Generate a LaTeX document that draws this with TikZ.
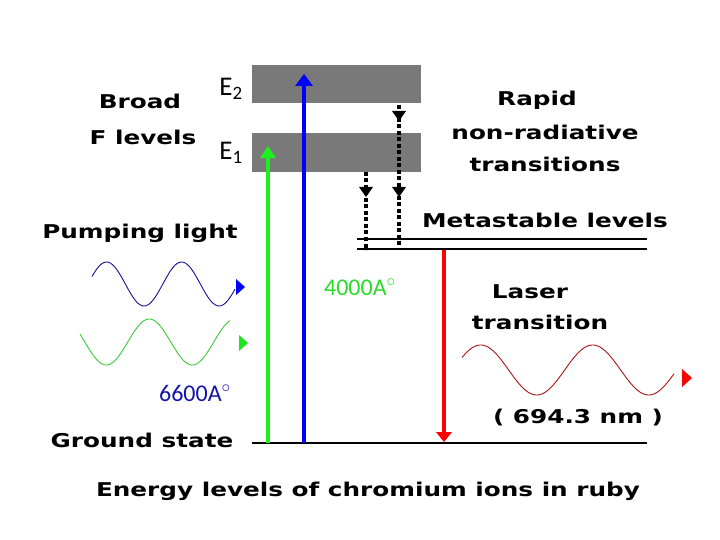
\documentclass[tikz,border=0pt]{standalone}
\usepackage{fontspec}
\setmainfont{DejaVu Sans}
\newfontfamily\widefont{DejaVu Sans Bold}[FakeStretch=1.3]
\newfontfamily\carlitofont{Carlito}
\begin{document}
\begin{tikzpicture}[x=1pt,y=-1pt,
  lbl/.style={font=\widefont\fontsize{19}{21}\selectfont,inner sep=0pt},
  cl/.style={font=\carlitofont\fontsize{27}{29}\selectfont,inner sep=0pt},
  cs/.style={font=\carlitofont\fontsize{24}{26}\selectfont,inner sep=0pt},
  band/.style={fill=gray!95!black,draw=none},
  lvl/.style={line width=2.4pt},
  dot/.style={line width=4pt,dash pattern=on 4pt off 2.5pt},
  dhead/.style={fill=black},
  wave/.style={line width=0.9pt}]
\useasboundingbox (0,0) rectangle (720,540);
\fill[band] (252,65) rectangle (421,103);
\fill[band] (252,133) rectangle (421,172);
\node[cl] (e2) at (231,89) {E\textsubscript{2}};
\node[cl] (e1) at (231,153) {E\textsubscript{1}};
\node[lbl] (broad) at (140,101) {Broad};
\node[lbl] (flev) at (143,137) {F levels};
\node[lbl] (pump) at (140,233) {Pumping light};
\node[lbl] (gs) at (142,440) {Ground state};
\node[lbl] (rapid) at (537,100) {Rapid};
\node[lbl] (nonrad) at (545,132) {non-radiative};
\node[lbl] (trans) at (545,164) {transitions};
\node[lbl] (meta) at (545,220) {Metastable levels};
\node[lbl] (laser) at (530,292) {Laser};
\node[lbl] (ltrans) at (540,322) {transition};
\node[lbl] (nm) at (578,418) {( 694.3 nm )};
\node[lbl] (cap) at (368,491) {Energy levels of chromium ions in ruby};
\node[cs,text={rgb,255:red,40;green,220;blue,40}] (a4) at (360,287) {4000A\textsuperscript{$\circ$}};
\node[cs,text={rgb,255:red,20;green,20;blue,170}] (a6) at (195,393) {6600A\textsuperscript{$\circ$}};
% levels
\coordinate (m1l) at (357,239); \coordinate (m1r) at (647,239);
\coordinate (m2l) at (357,249); \coordinate (m2r) at (647,249);
\coordinate (gl) at (252,443); \coordinate (gr) at (647,443);
\draw[lvl] (m1l) -- (m1r); \draw[lvl] (m2l) -- (m2r); \draw[lvl] (gl) -- (gr);
% pumps
\coordinate (g0) at (268,443); \coordinate (g1) at (268,146);
\coordinate (b0) at (304,443); \coordinate (b1) at (304,74);
\draw[line width=4pt,color={rgb,255:red,30;green,240;blue,30}] (g0) -- (268,158);
\fill[color={rgb,255:red,30;green,240;blue,30}] (g1) -- ++(-8,12) -- ++(16,0) -- cycle;
\draw[line width=4pt,blue] (b0) -- (304,86);
\fill[blue] (b1) -- ++(-9,12) -- ++(18,0) -- cycle;
% laser
\coordinate (r0) at (444,250); \coordinate (r1) at (444,442);
\draw[line width=4pt,red] (r0) -- (444,432);
\fill[red] (r1) -- ++(-8,-10) -- ++(16,0) -- cycle;
% dotted
\coordinate (d1a) at (399,105); \coordinate (d1b) at (399,250);
\coordinate (d2a) at (366,172); \coordinate (d2b) at (366,250);
\draw[dot] (d1a) -- (d1b); \draw[dot] (d2a) -- (d2b);
\foreach \x/\y in {399/117,399/193,366/193}
  \fill[dhead] (\x-7,\y-6) -- (\x+7,\y-6) -- (\x,\y+4) -- cycle;
% waves
\draw[wave,color={rgb,255:red,20;green,20;blue,150}] plot[domain=0:143,samples=100] ({92+\x},{284-22*sin(\x/75*360+20)});
\fill[blue] (245,287) -- ++(-9,-8) -- ++(0,16) -- cycle;
\draw[wave,color={rgb,255:red,60;green,200;blue,60}] plot[domain=0:150,samples=100] ({80+\x},{342-23*sin(\x/86*360+160)});
\fill[color={rgb,255:red,30;green,230;blue,30}] (248,343) -- ++(-9,-8) -- ++(0,16) -- cycle;
\draw[wave,color={rgb,255:red,170;green,20;blue,20}] plot[domain=0:212,samples=120] ({462+\x},{370-25*sin(\x/112*360+30)});
\fill[red] (692,378) -- ++(-10,-9) -- ++(0,18) -- cycle;
\end{tikzpicture}
\end{document}
